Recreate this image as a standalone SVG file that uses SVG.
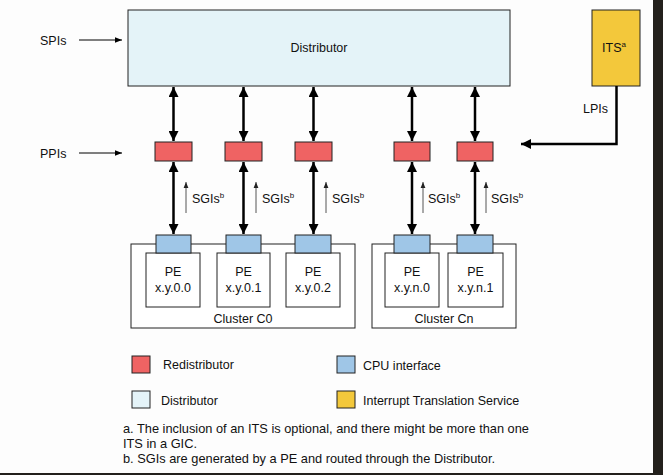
<svg xmlns="http://www.w3.org/2000/svg" width="663" height="475" viewBox="0 0 663 475">
<defs>
<style>
text{font-family:"Liberation Sans",Arial,sans-serif;font-size:12.5px;fill:#111}
.fn{font-size:12.8px}
.box{stroke:#222;stroke-width:1}
.dist{fill:#e4f3f8}
.redi{fill:#ef6363}
.cpu{fill:#9fc6e7}
.its{fill:#f3c83b}
.pe{fill:#fff}
.thick{stroke:#000;stroke-width:2.5;fill:none}
.thin{stroke:#000;stroke-width:1;fill:none}
.sgi{stroke:#555;stroke-width:1;fill:none}
.c{text-anchor:middle}
</style>
<marker id="ah" viewBox="0 0 10 10" refX="10" refY="5" markerWidth="4" markerHeight="4" orient="auto-start-reverse" markerUnits="strokeWidth"><path d="M0,0 L10,5 L0,10 z" fill="#000"/></marker>
<marker id="ahs" viewBox="0 0 10 10" refX="10" refY="5" markerWidth="7" markerHeight="7" orient="auto" markerUnits="strokeWidth"><path d="M0,1 L10,5 L0,9 z" fill="#000"/></marker>
<marker id="ahg" viewBox="0 0 10 10" refX="10" refY="5" markerWidth="6" markerHeight="8" orient="auto" markerUnits="strokeWidth"><path d="M0,1 L10,5 L0,9 z" fill="#222"/></marker>
</defs>
<rect width="663" height="475" fill="#fdfdfd"/>
<rect x="653" y="0" width="10" height="475" fill="#23201c"/>
<rect x="0" y="473" width="663" height="2" fill="#23201c"/>

<g id="distributor"><rect class="box dist" x="128" y="10" width="382" height="76"/><text class="c" x="319" y="52">Distributor</text></g>
<g id="its"><rect class="box its" x="592" y="10" width="48" height="76"/><text class="c" x="614" y="52">ITS<tspan font-size="8" dy="-5">a</tspan></text></g>

<g id="redist0"><rect class="box redi" x="155" y="142" width="37" height="19"/></g>
<g id="redist1"><rect class="box redi" x="225" y="142" width="37" height="19"/></g>
<g id="redist2"><rect class="box redi" x="295" y="142" width="37" height="19"/></g>
<g id="redist3"><rect class="box redi" x="394" y="142" width="36" height="19"/></g>
<g id="redist4"><rect class="box redi" x="457" y="142" width="36" height="19"/></g>

<g id="clusterC0"><rect class="box pe" x="131" y="244" width="224" height="84"/><text class="c" x="243" y="323">Cluster C0</text></g>
<g id="clusterCn"><rect class="box pe" x="372" y="244" width="144" height="84"/><text class="c" x="444" y="323">Cluster Cn</text></g>

<g id="pe000"><rect class="box pe" x="146" y="253" width="54" height="54"/><text class="c" x="173" y="276">PE</text><text class="c" x="173" y="292">x.y.0.0</text></g>
<g id="pe001"><rect class="box pe" x="217" y="253" width="53" height="54"/><text class="c" x="243.5" y="276">PE</text><text class="c" x="243.5" y="292">x.y.0.1</text></g>
<g id="pe002"><rect class="box pe" x="286" y="253" width="54" height="54"/><text class="c" x="313" y="276">PE</text><text class="c" x="313" y="292">x.y.0.2</text></g>
<g id="pe0n0"><rect class="box pe" x="385" y="253" width="54" height="54"/><text class="c" x="412" y="276">PE</text><text class="c" x="412" y="292">x.y.n.0</text></g>
<g id="pe0n1"><rect class="box pe" x="448" y="253" width="55" height="54"/><text class="c" x="475.5" y="276">PE</text><text class="c" x="475.5" y="292">x.y.n.1</text></g>

<g id="cpu0"><rect class="box cpu" x="156" y="235" width="35" height="18"/></g>
<g id="cpu1"><rect class="box cpu" x="226" y="235" width="35" height="18"/></g>
<g id="cpu2"><rect class="box cpu" x="295" y="235" width="36" height="18"/></g>
<g id="cpu3"><rect class="box cpu" x="394" y="235" width="36" height="18"/></g>
<g id="cpu4"><rect class="box cpu" x="457" y="235" width="36" height="18"/></g>

<g id="labels">
<text x="40" y="45">SPIs</text>
<text x="40" y="158">PPIs</text>
<text x="583" y="113">LPIs</text>
<text x="192" y="203">SGIs<tspan font-size="8" dy="-5">b</tspan></text>
<text x="262" y="203">SGIs<tspan font-size="8" dy="-5">b</tspan></text>
<text x="332" y="203">SGIs<tspan font-size="8" dy="-5">b</tspan></text>
<text x="428" y="203">SGIs<tspan font-size="8" dy="-5">b</tspan></text>
<text x="491" y="203">SGIs<tspan font-size="8" dy="-5">b</tspan></text>
</g>

<g id="connectors">
<line class="thin" x1="79" y1="40" x2="122" y2="40" marker-end="url(#ahs)"/>
<line class="thin" x1="79" y1="153" x2="122" y2="153" marker-end="url(#ahs)"/>
<line class="thick" x1="173.5" y1="87" x2="173.5" y2="141" marker-start="url(#ah)" marker-end="url(#ah)"/>
<line class="thick" x1="243.5" y1="87" x2="243.5" y2="141" marker-start="url(#ah)" marker-end="url(#ah)"/>
<line class="thick" x1="313.5" y1="87" x2="313.5" y2="141" marker-start="url(#ah)" marker-end="url(#ah)"/>
<line class="thick" x1="412" y1="87" x2="412" y2="141" marker-start="url(#ah)" marker-end="url(#ah)"/>
<line class="thick" x1="475" y1="87" x2="475" y2="141" marker-start="url(#ah)" marker-end="url(#ah)"/>
<line class="thick" x1="173.5" y1="162" x2="173.5" y2="234" marker-start="url(#ah)" marker-end="url(#ah)"/>
<line class="thick" x1="243.5" y1="162" x2="243.5" y2="234" marker-start="url(#ah)" marker-end="url(#ah)"/>
<line class="thick" x1="313.5" y1="162" x2="313.5" y2="234" marker-start="url(#ah)" marker-end="url(#ah)"/>
<line class="thick" x1="412" y1="162" x2="412" y2="234" marker-start="url(#ah)" marker-end="url(#ah)"/>
<line class="thick" x1="475" y1="162" x2="475" y2="234" marker-start="url(#ah)" marker-end="url(#ah)"/>
<polyline class="thick" points="616.5,86 616.5,144 521,144" marker-end="url(#ah)"/>
<line class="sgi" x1="186" y1="213" x2="186" y2="182" marker-end="url(#ahg)"/>
<line class="sgi" x1="256" y1="213" x2="256" y2="182" marker-end="url(#ahg)"/>
<line class="sgi" x1="326" y1="213" x2="326" y2="182" marker-end="url(#ahg)"/>
<line class="sgi" x1="423" y1="213" x2="423" y2="182" marker-end="url(#ahg)"/>
<line class="sgi" x1="486" y1="213" x2="486" y2="182" marker-end="url(#ahg)"/>
</g>

<g id="legend">
<rect class="box redi" x="132" y="356" width="18" height="17"/><text x="163" y="369">Redistributor</text>
<rect class="box cpu" x="337" y="356" width="18" height="17"/><text x="363" y="370">CPU interface</text>
<rect class="box dist" x="132" y="391" width="18" height="17"/><text x="161" y="405">Distributor</text>
<rect class="box its" x="337" y="391" width="18" height="17"/><text x="363" y="405">Interrupt Translation Service</text>
<text class="fn" x="123" y="433">a. The inclusion of an ITS is optional, and there might be more than one</text>
<text class="fn" x="123" y="448">ITS in a GIC.</text>
<text class="fn" x="123" y="463">b. SGIs are generated by a PE and routed through the Distributor.</text>
</g>
</svg>
